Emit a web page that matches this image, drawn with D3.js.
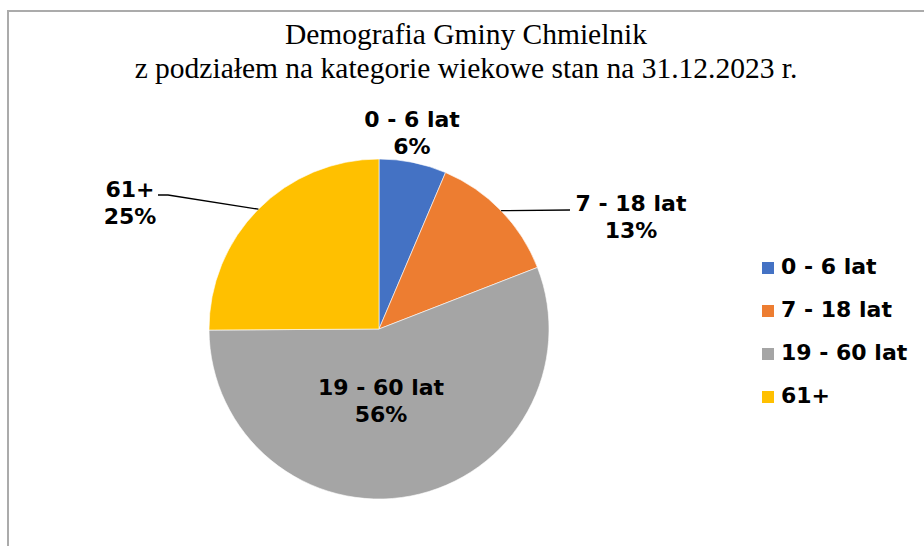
<!DOCTYPE html>
<html><head><meta charset="utf-8">
<script src="https://cdn.jsdelivr.net/npm/d3@7"></script>
<style>body{margin:0;background:#fff}svg{display:block}
.ttl{font-family:"Liberation Serif","Times New Roman",Tinos,"DejaVu Serif",serif}</style>
</head><body>
<script>
const categories = ["0 - 6 lat", "7 - 18 lat", "19 - 60 lat", "61+"];
const values = [6.4, 12.7, 55.8, 25.1];
const percentLabels = ["6%", "13%", "56%", "25%"];
const colors = ["#4472C4", "#ED7D31", "#A5A5A5", "#FFC000"];
const titleLines = ["Demografia Gminy Chmielnik", "z podziałem na kategorie wiekowe stan na 31.12.2023 r."];

const W = 924, H = 546;
const cx = 379, cy = 329, R = 170;
// label anchor offsets (first baseline) relative to pie center
const labelOffsets = [[33, -202], [252, -118], [2, 66], [-249, -132]];
const hasLeader = [false, true, false, true];

const svg = d3.select("body").append("svg").attr("width", W).attr("height", H);
svg.append("rect").attr("width", W).attr("height", H).attr("fill", "#fff");
svg.append("path").attr("d", `M8,${H} L8,11 L${W},11`).attr("fill", "none")
  .attr("stroke", "#ababab").attr("stroke-width", 2);

svg.append("g").selectAll("text").data(titleLines).join("text")
  .attr("class", "ttl")
  .attr("x", 466).attr("y", (d, i) => 44 + i * 34)
  .attr("text-anchor", "middle")
  .attr("font-size", 29.5).attr("fill", "#000")
  .text(d => d);

const pie = d3.pie().sort(null).value(d => d)(values);
const arc = d3.arc().innerRadius(0).outerRadius(R);
const g = svg.append("g").attr("transform", `translate(${cx},${cy})`);
g.selectAll("path").data(pie).join("path")
  .attr("d", arc).attr("fill", (d, i) => colors[i])
  .attr("stroke", "#fff").attr("stroke-width", 0.6);

const labelFont = "DejaVu Sans, Verdana, sans-serif";
pie.forEach((d, i) => {
  if (!hasLeader[i]) return;
  const a = (d.startAngle + d.endAngle) / 2;
  const p0 = [Math.sin(a) * R, -Math.cos(a) * R];
  const [ox, oy] = labelOffsets[i];
  let pts;
  if (ox > 0) {
    pts = [p0, [ox - 61, oy - 1]];
  } else {
    pts = [p0, [ox + 38, oy - 2], [ox + 28, oy - 2]];
  }
  g.append("path").attr("d", d3.line()(pts)).attr("fill", "none")
    .attr("stroke", "#000").attr("stroke-width", 1.3);
});

const lab = g.append("g").selectAll("text").data(pie).join("text")
  .attr("text-anchor", "middle")
  .attr("font-family", labelFont).attr("font-weight", "bold")
  .attr("font-size", 22).attr("fill", "#000");
lab.each(function(d, i) {
  const t = d3.select(this);
  const [ox, oy] = labelOffsets[i];
  t.append("tspan").attr("x", ox).attr("y", oy).text(categories[i]);
  t.append("tspan").attr("x", ox).attr("y", oy + 27).text(percentLabels[i]);
});

const leg = svg.append("g").selectAll("g").data(categories).join("g")
  .attr("transform", (d, i) => `translate(762,${262 + i * 43})`);
leg.append("rect").attr("width", 12).attr("height", 12).attr("fill", (d, i) => colors[i]);
leg.append("text").attr("x", 19).attr("y", 12)
  .attr("font-family", labelFont).attr("font-weight", "bold")
  .attr("font-size", 22).attr("fill", "#000")
  .text(d => d);
</script>
</body></html>
